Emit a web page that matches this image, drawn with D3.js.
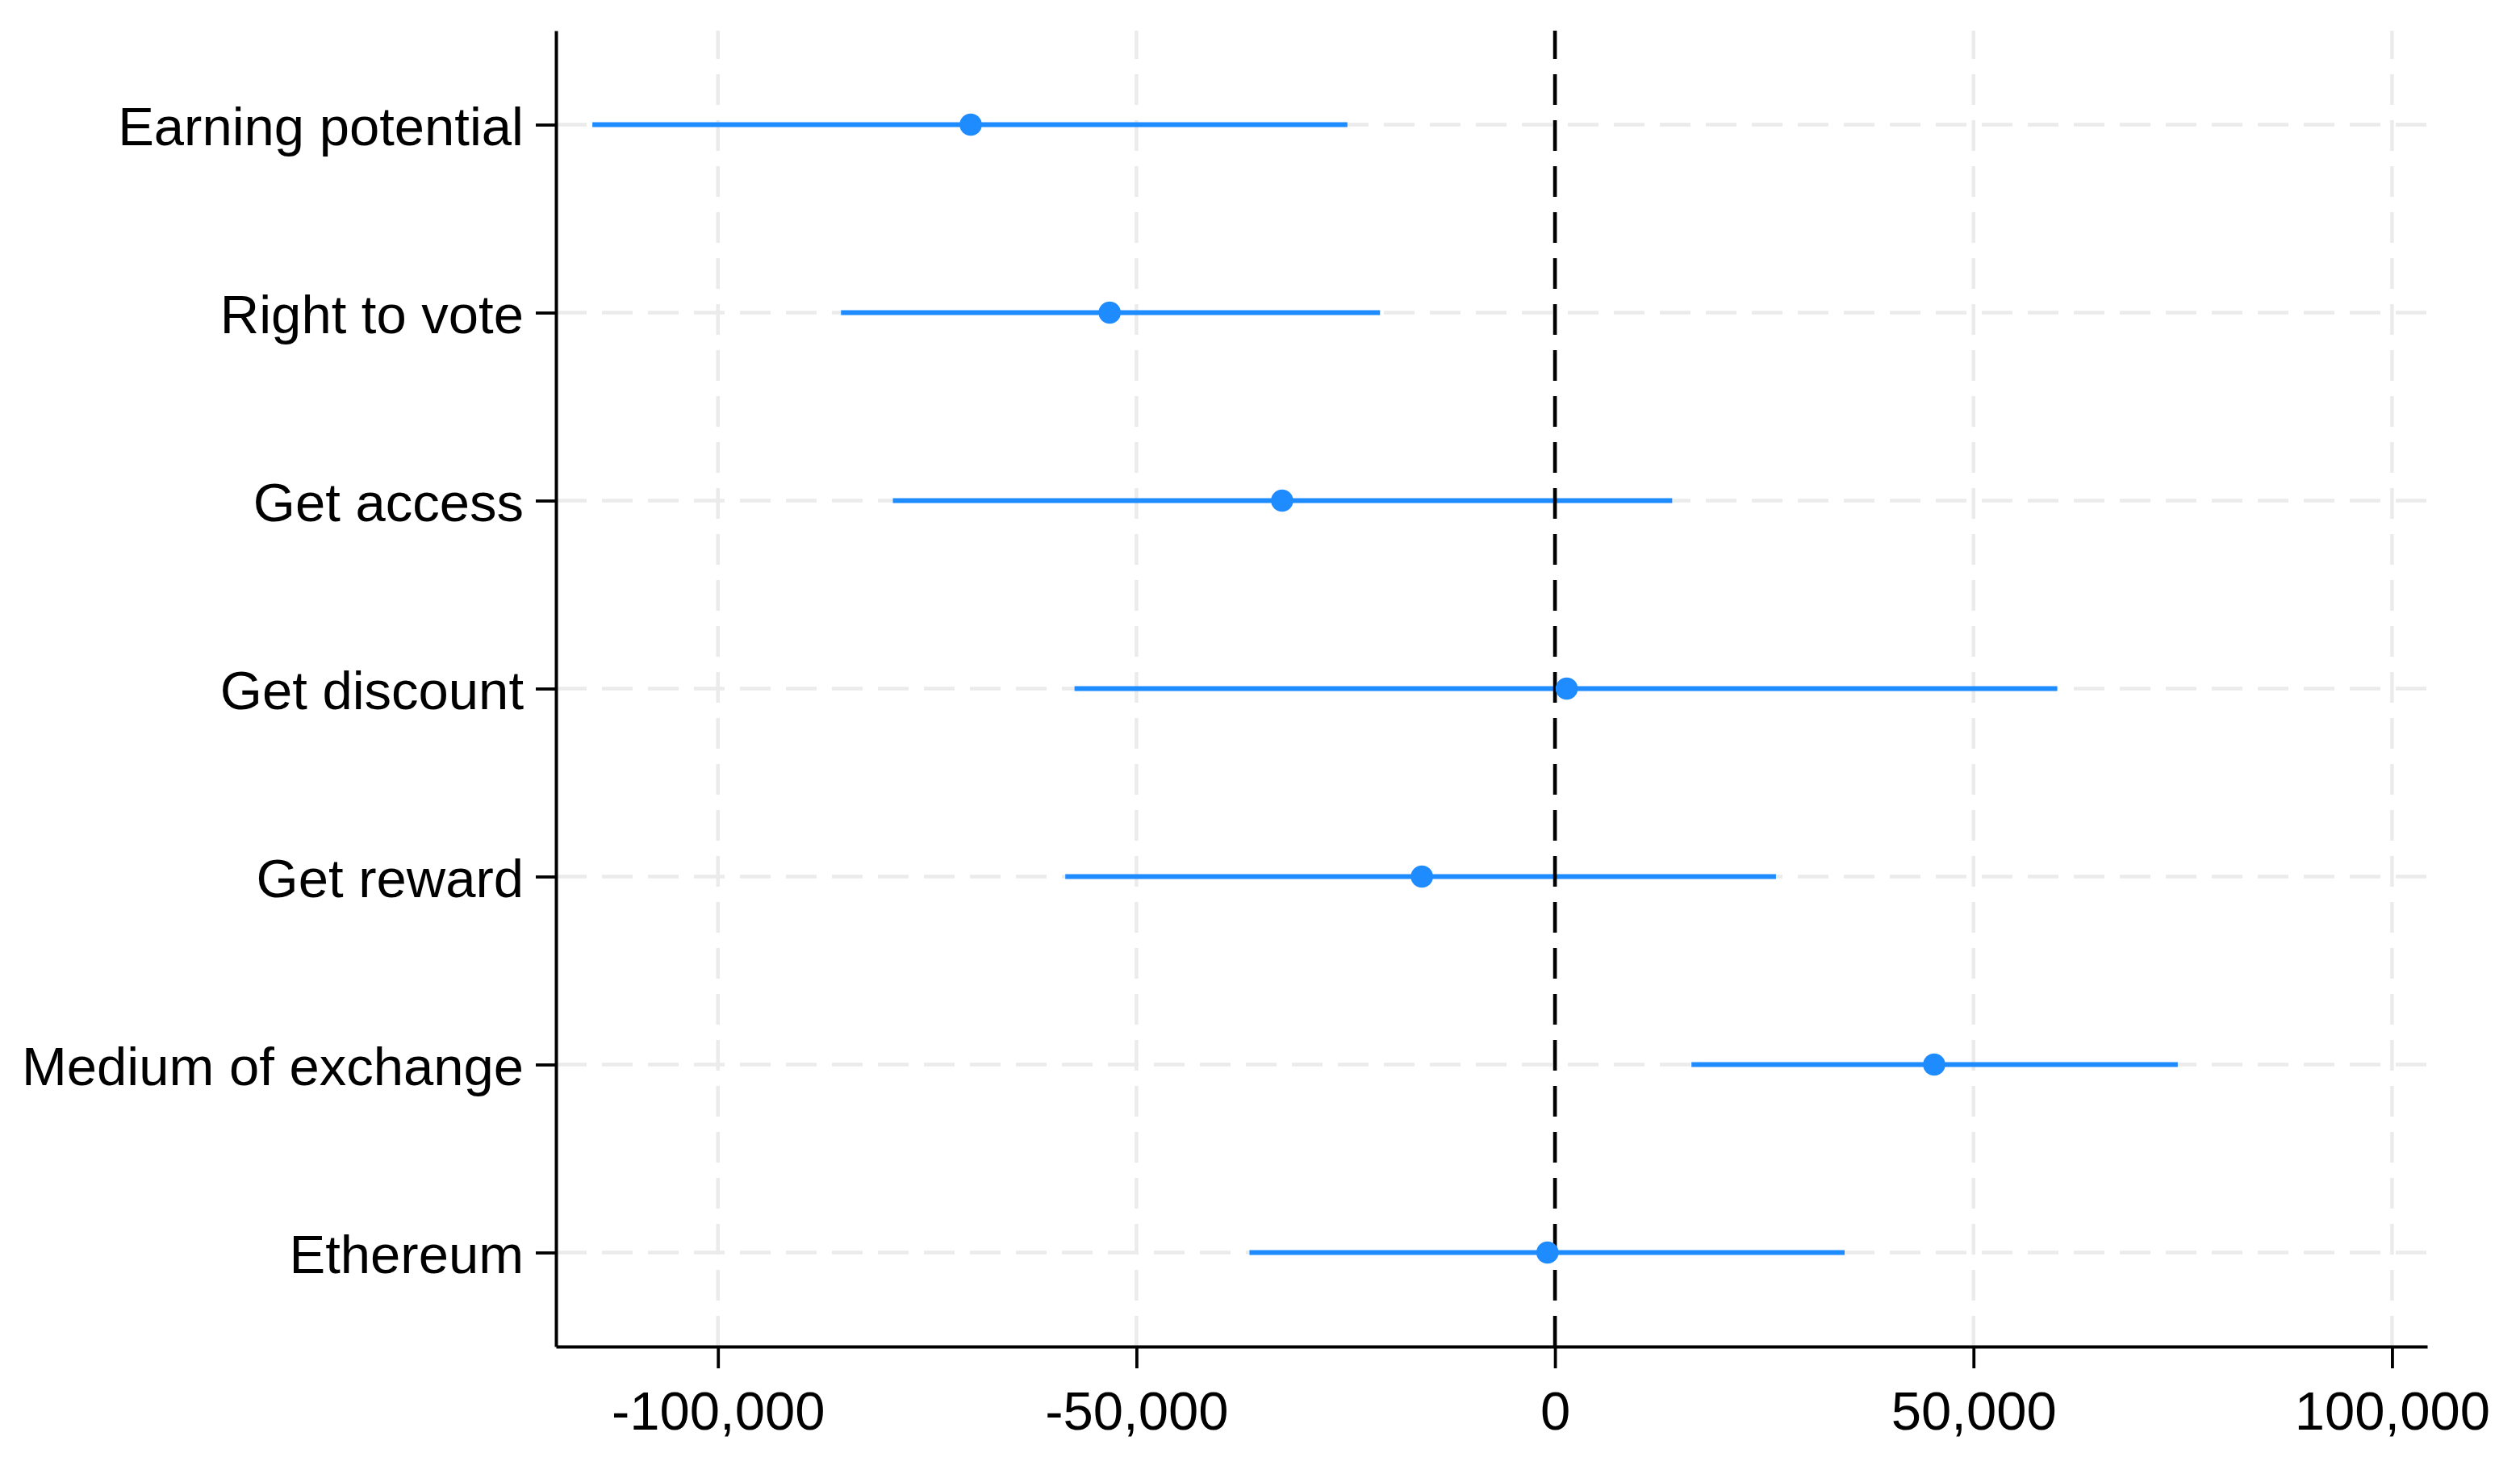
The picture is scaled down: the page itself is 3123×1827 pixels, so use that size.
<!DOCTYPE html>
<html>
<head>
<meta charset="utf-8">
<script src="https://cdn.jsdelivr.net/npm/d3@7"></script>
<style>
  html, body { margin: 0; padding: 0; background: #ffffff; }
  svg { display: block; }
  text { font-family: "Liberation Sans", Arial, Helvetica, sans-serif; }
</style>
</head>
<body>
<svg id="chart" width="3123" height="1827"></svg>
<script>
const categories = ["Earning potential", "Right to vote", "Get access", "Get discount", "Get reward", "Medium of exchange", "Ethereum"];
const estimates = [-69800, -53200, -32600, 1400, -15900, 45300, -900];
const lowerCI   = [-115000, -85300, -79100, -57400, -58500, 16300, -36500];
const upperCI   = [-24800, -20900, 14000, 60000, 26400, 74400, 34600];
const xTickValues = [-100000, -50000, 0, 50000, 100000];
const xTickLabels = ["-100,000", "-50,000", "0", "50,000", "100,000"];
const xDomain = [-119350, 104200];

(function () {
const rows = categories.map((c, i) => ({ cat: c, est: estimates[i], lo: lowerCI[i], hi: upperCI[i] }));

const svg = d3.select("#chart");
svg.append("rect").attr("width", 3123).attr("height", 1827).attr("fill", "#ffffff");

const plotLeft = 689, plotRight = 3008, plotTop = 38, plotBottom = 1669;
const x = d3.scaleLinear().domain(xDomain).range([plotLeft, plotRight]);
const y = d3.scalePoint().domain(categories).range([plotTop, plotBottom]).padding(0.5);

const blue = "#1E8CFF";
const gridColor = "#ebebeb";
const dash = "38 19";

// vertical grid lines (drawn from bottom up)
svg.append("g").selectAll("line").data(xTickValues).join("line")
  .attr("x1", d => x(d)).attr("x2", d => x(d))
  .attr("y1", plotBottom).attr("y2", plotTop)
  .attr("stroke", gridColor).attr("stroke-width", 4.5)
  .attr("stroke-dasharray", dash);

// horizontal grid lines
svg.append("g").selectAll("line").data(categories).join("line")
  .attr("x1", plotLeft).attr("x2", plotRight)
  .attr("y1", d => y(d)).attr("y2", d => y(d))
  .attr("stroke", gridColor).attr("stroke-width", 4.5)
  .attr("stroke-dasharray", dash);

// confidence intervals
svg.append("g").selectAll("line").data(rows).join("line")
  .attr("x1", d => x(d.lo)).attr("x2", d => x(d.hi))
  .attr("y1", d => y(d.cat)).attr("y2", d => y(d.cat))
  .attr("stroke", blue).attr("stroke-width", 6.2);

// zero reference line
svg.append("line")
  .attr("x1", x(0)).attr("x2", x(0))
  .attr("y1", plotBottom).attr("y2", plotTop)
  .attr("stroke", "#000").attr("stroke-width", 4.6)
  .attr("stroke-dasharray", dash);

// point estimates
svg.append("g").selectAll("circle").data(rows).join("circle")
  .attr("cx", d => x(d.est)).attr("cy", d => y(d.cat))
  .attr("r", 13.8).attr("fill", blue);

// x axis
const xAxis = d3.axisBottom(x)
  .tickValues(xTickValues)
  .tickFormat((d, i) => xTickLabels[i])
  .tickSize(27).tickSizeOuter(0).tickPadding(28);
const gx = svg.append("g").attr("transform", `translate(0,${plotBottom})`).call(xAxis);
gx.select(".domain").attr("stroke", "#000").attr("stroke-width", 4.2);
gx.selectAll(".tick line").attr("stroke", "#000").attr("stroke-width", 3.8);
gx.selectAll(".tick text").attr("font-size", 67).attr("fill", "#000")
  .style("font-family", '"Liberation Sans", Arial, sans-serif');

// y axis
const yAxis = d3.axisLeft(y).tickSize(25).tickSizeOuter(0).tickPadding(15);
const gy = svg.append("g").attr("transform", `translate(${plotLeft},0)`).call(yAxis);
gy.select(".domain").attr("stroke", "#000").attr("stroke-width", 4);
gy.selectAll(".tick line").attr("stroke", "#000").attr("stroke-width", 3.8);
gy.selectAll(".tick text").attr("font-size", 67).attr("fill", "#000").attr("dy", "0.37em")
  .style("font-family", '"Liberation Sans", Arial, sans-serif');
})();
</script>
</body>
</html>
